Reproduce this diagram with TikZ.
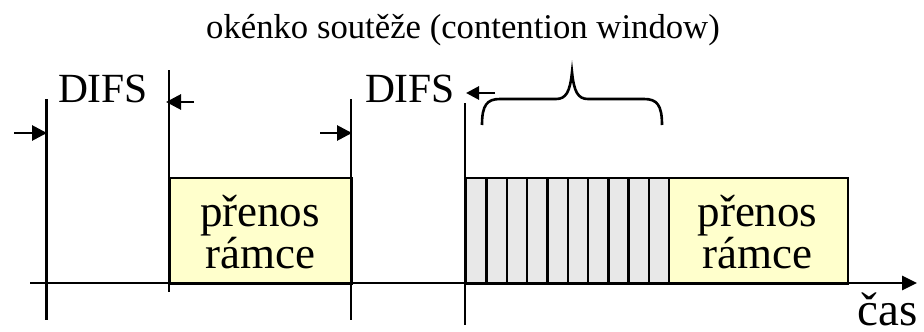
\documentclass[tikz,border=0pt]{standalone}
\usepackage{fontspec}
\setmainfont{Liberation Serif}
\usetikzlibrary{arrows.meta}
\definecolor{frameyellow}{HTML}{FFFFCC}
\definecolor{slotgray}{HTML}{E8E8E8}
\tikzset{
  tick/.style={line width=2.6pt},
  axisline/.style={line width=2.8pt,-{Triangle[length=15pt,width=14pt]}},
  difsarrow/.style={line width=2.8pt,-{Triangle[length=15pt,width=15pt]}},
  framebox/.style={draw,line width=2.4pt,fill=frameyellow,minimum width=182pt,minimum height=106pt,inner sep=0pt},
  slot/.style={draw,line width=2.4pt,fill=slotgray,minimum width=20.3pt,minimum height=106pt,inner sep=0pt},
  lbl/.style={inner sep=0pt,anchor=base},
  frametext/.style={inner sep=0pt,align=center,font=\fontsize{45}{40}\selectfont},
  bracepath/.style={line width=2.6pt}
}
\begin{document}
\begin{tikzpicture}[x=1pt,y=-1pt]
\useasboundingbox (0,0) rectangle (924,332);
% frames
\node[framebox,anchor=north west] (f1) at (169,177) {};
\node[frametext] (t1) at (260,232) {přenos\\rámce};
\foreach \i in {0,...,9} {
  \node[slot,anchor=north west] (s\i) at ({465+20.3*\i},177) {};
}
\node[framebox,anchor=north west,minimum width=179pt] (f2) at (668,177) {};
\node[frametext] (t2) at (757.5,232) {přenos\\rámce};
% axis
\coordinate (a0) at (30,283);
\coordinate (a1) at (917,283);
\draw[axisline] (a0) -- (a1);
% vertical ticks
\coordinate (v1t) at (46.7,99);  \coordinate (v1b) at (46.7,320);
\coordinate (v2t) at (169,70);   \coordinate (v2b) at (169,292);
\coordinate (v3t) at (351,99);   \coordinate (v3b) at (351,320);
\coordinate (v4t) at (465,103);  \coordinate (v4b) at (465,325);
\draw[tick] (v1t) -- (v1b);
\draw[tick] (v2t) -- (v2b);
\draw[tick] (v3t) -- (v3b);
\draw[tick] (v4t) -- (v4b);
% DIFS arrows
\coordinate (d1s) at (14,133);  \coordinate (d1e) at (47,133);
\coordinate (d2s) at (194,102); \coordinate (d2e) at (166,102);
\coordinate (d3s) at (320,133); \coordinate (d3e) at (352,133);
\coordinate (d4s) at (495,93);  \coordinate (d4e) at (466,93);
\draw[difsarrow] (d1s) -- (d1e);
\draw[difsarrow] (d2s) -- (d2e);
\draw[difsarrow] (d3s) -- (d3e);
\draw[difsarrow,-{Triangle[length=13pt,width=13pt]}] (d4s) -- (d4e);
% labels
\node[lbl,font=\fontsize{41.5}{42}\selectfont] (difs1) at (103,102) {DIFS};
\node[lbl,font=\fontsize{41.5}{42}\selectfont] (difs2) at (410,102) {DIFS};
\node[lbl,font=\fontsize{34.7}{35}\selectfont] (cw) at (463,38) {okénko soutěže (contention window)};
\node[lbl,anchor=base east,font=\fontsize{47}{47}\selectfont] (cas) at (918,325) {čas};
% brace
\coordinate (b0) at (482,125);
\coordinate (b1) at (662,125);
\coordinate (bm) at (572,72);
\draw[bracepath] (b0) .. controls (482,105) and (487,99) .. (500,99)
  -- (556,99) .. controls (566,99) and (570,92) .. (bm)
  .. controls (574,92) and (578,99) .. (588,99)
  -- (644,99) .. controls (657,99) and (662,105) .. (b1);
\end{tikzpicture}
\end{document}
